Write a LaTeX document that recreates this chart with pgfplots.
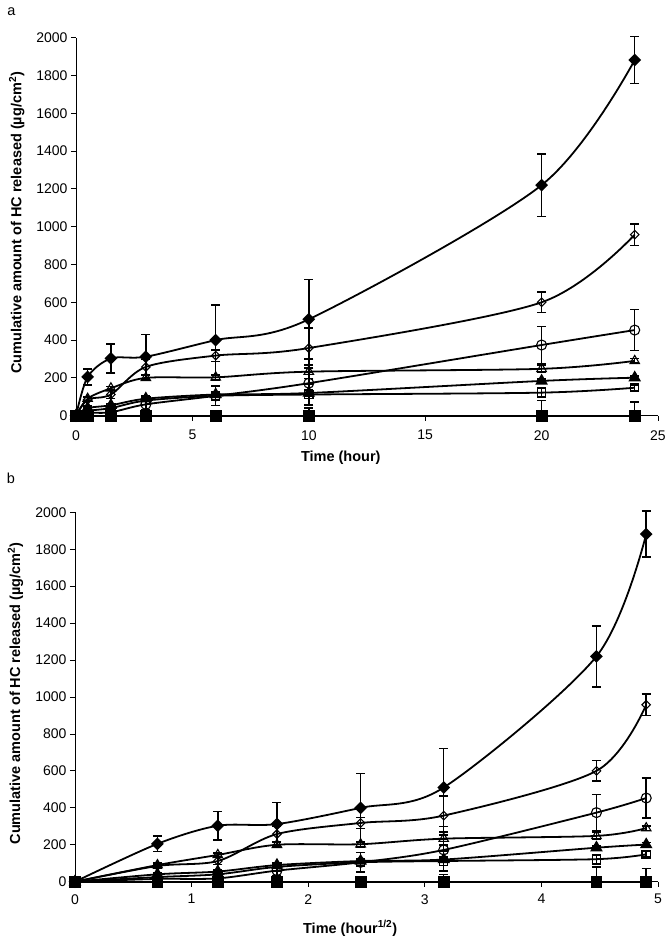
\documentclass[border=0pt]{standalone}
\usepackage{fontspec}
\setmainfont{Liberation Sans}
\usepackage{pgfplots}
\usepackage{pgfplotstable}
\pgfplotsset{compat=1.18}

% columns: t = time (h), s = sqrt(t), y = amount, ep/em = error up/down
\pgfplotstableread{
t s y ep em
0 0 0 0 0
0.5 0.7071 205 42 42
1.5 1.2247 303 77 77
3 1.7321 312 118 118
6 2.4495 400 185 185
10 3.1623 510 210 210
20 4.4721 1220 165 165
24 4.8990 1882 125 125
}\fdiam
\pgfplotstableread{
t s y ep em
0 0 0 0 0
0.5 0.7071 85 10 10
1.5 1.2247 112 20 20
3 1.7321 258 40 40
6 2.4495 318 30 30
10 3.1623 358 105 105
20 4.4721 600 55 55
24 4.8990 958 57 57
}\odiam
\pgfplotstableread{
t s y ep em
0 0 0 0 0
0.5 0.7071 15 10 10
1.5 1.2247 18 15 15
3 1.7321 60 30 30
6 2.4495 105 52 52
10 3.1623 172 60 60
20 4.4721 374 97 97
24 4.8990 453 108 108
}\ocirc
\pgfplotstableread{
t s y ep em
0 0 0 0 0
0.5 0.7071 90 10 10
1.5 1.2247 145 10 10
3 1.7321 200 15 15
6 2.4495 203 15 15
10 3.1623 233 35 35
20 4.4721 248 20 20
24 4.8990 290 12 12
}\otri
\pgfplotstableread{
t s y ep em
0 0 0 0 0
0.5 0.7071 40 10 10
1.5 1.2247 55 10 10
3 1.7321 90 15 15
6 2.4495 112 10 10
10 3.1623 120 15 15
20 4.4721 184 10 10
24 4.8990 201 10 10
}\ftri
\pgfplotstableread{
t s y ep em
0 0 0 0 0
0.5 0.7071 25 10 10
1.5 1.2247 40 15 15
3 1.7321 80 20 20
6 2.4495 105 20 20
10 3.1623 112 55 55
20 4.4721 122 25 25
24 4.8990 148 15 15
}\osq
\pgfplotstableread{
t s y ep em
0 0 0 2 0
0.5 0.7071 0 5 0
1.5 1.2247 0 5 0
3 1.7321 0 5 0
6 2.4495 0 20 0
10 3.1623 0 40 0
20 4.4721 0 80 0
24 4.8990 0 72 0
}\fsq

\newcommand\series[3]{%
  \addplot[black, line width=1.8pt, smooth, mark=#3,
    error bars/.cd, y dir=both, y explicit,
    error bar style={line width=1.5pt, black},
    error mark options={rotate=90, line width=1.5pt, mark size=4.5pt, black}]
    table[x=#2, y=y, y error plus=ep, y error minus=em] {#1};}

\newcommand\allseries[1]{%
  \series{\fsq}{#1}{square*, mark options={mark size=5pt, fill=black}}
  \series{\osq}{#1}{square, mark options={mark size=4.2pt, line width=1.1pt}}
  \series{\ftri}{#1}{triangle*, mark options={mark size=5.5pt, fill=black}}
  \series{\otri}{#1}{triangle, mark options={mark size=5.5pt, line width=1.1pt}}
  \series{\ocirc}{#1}{o, mark options={mark size=5pt, line width=1.1pt}}
  \series{\odiam}{#1}{square, mark options={mark size=3pt, rotate=45, line width=1.1pt}}
  \series{\fdiam}{#1}{square*, mark options={mark size=3.6pt, rotate=45, fill=black}}}

\pgfplotsset{
  relplot/.style={
    scale only axis,
    anchor=south west,
    ymin=0, ymax=2000, ytick distance=200,
    axis x line*=bottom, axis y line*=left,
    axis line style={-, line width=0.8pt},
    tick align=outside, major tick length=5pt,
    tick style={black, line width=0.8pt},
    clip=false,
    /pgf/number format/assume math mode=true,
    /pgf/number format/1000 sep={},
    tick label style={font=\fontsize{14}{16}\selectfont},
    label style={font=\fontsize{14.5}{17}\selectfont\bfseries},
    ylabel={Cumulative amount of HC released (µg/cm\textsuperscript{2})},
    ylabel style={at={(axis description cs:-0.102,0.51)}, anchor=center, rotate=0},
  }
}

\begin{document}
\begin{tikzpicture}
\useasboundingbox (0,0) rectangle (667pt,938pt);
\node[font=\fontsize{14.5}{16}\selectfont] at (11.5pt,926.5pt) {a};
\node[font=\fontsize{14.5}{16}\selectfont] at (11pt,460pt) {b};

\begin{axis}[relplot, at={(76pt,522.3pt)}, width=582pt, height=378pt,
  xmin=0, xmax=25, xtick distance=5,
  xticklabel style={yshift=-6pt},
  xlabel={Time (hour)},
  xlabel style={at={(axis description cs:0.455,-0.11)}, anchor=center}]
\allseries{t}
\end{axis}

\begin{axis}[relplot, at={(75pt,56.3pt)}, width=583pt, height=369.4pt,
  xmin=0, xmax=5, xtick distance=1,
  xticklabel style={yshift=-4pt},
  xlabel={Time (hour\textsuperscript{1/2})},
  xlabel style={at={(axis description cs:0.472,-0.126)}, anchor=center}]
\allseries{s}
\end{axis}
\end{tikzpicture}
\end{document}
